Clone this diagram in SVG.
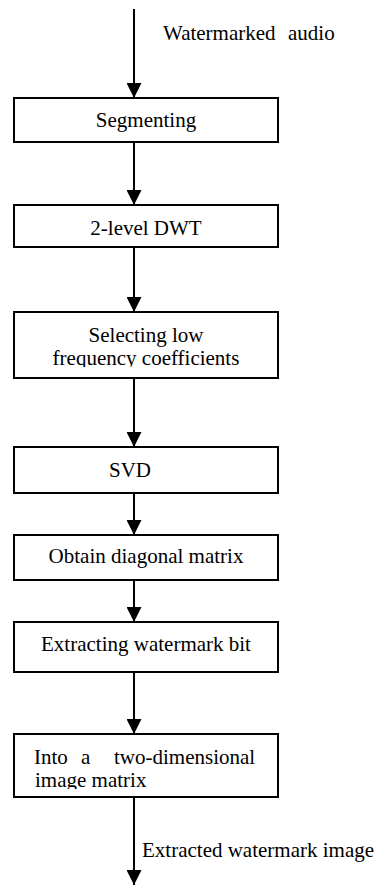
<svg xmlns="http://www.w3.org/2000/svg" width="380" height="885" viewBox="0 0 380 885">
<style>
.box{fill:#fff;stroke:#000;stroke-width:2}
.t{font-family:"Liberation Serif","Times New Roman",serif;font-size:21px;fill:#000}
.c{text-anchor:middle}
.conn line{stroke:#000;stroke-width:2;marker-end:url(#ah)}
</style>
<defs>
<marker id="ah" markerUnits="userSpaceOnUse" markerWidth="15" markerHeight="15" refX="15" refY="7.5" orient="auto" viewBox="0 0 15 15">
<path d="M0,0 L15,7.5 L0,15 z" fill="#000"/>
</marker>
<clipPath id="clip3"><rect x="14" y="312" width="264" height="55"/></clipPath>
<clipPath id="clip7"><rect x="14" y="734" width="264" height="55"/></clipPath>
</defs>
<rect width="380" height="885" fill="#fff"/>
<g id="connectors" class="conn">
<line x1="134" y1="9" x2="134" y2="98"/>
<line x1="134" y1="142" x2="134" y2="205"/>
<line x1="134" y1="247" x2="134" y2="312"/>
<line x1="134" y1="378" x2="134" y2="447"/>
<line x1="134" y1="493" x2="134" y2="535"/>
<line x1="134" y1="580" x2="134" y2="622"/>
<line x1="134" y1="672" x2="134" y2="734"/>
<line x1="134" y1="797" x2="134" y2="885"/>
</g>
<g id="label-in"><text class="t" y="40"><tspan x="163">Watermarked</tspan><tspan x="288">audio</tspan></text></g>
<g id="n1"><rect class="box" x="14" y="98" width="264" height="44"/><text class="t c" x="146" y="127">Segmenting</text></g>
<g id="n2"><rect class="box" x="14" y="205" width="264" height="42"/><text class="t c" x="146" y="235">2-level DWT</text></g>
<g id="n3"><rect class="box" x="14" y="312" width="264" height="66"/><text class="t c" x="146" y="342">Selecting low</text><text class="t c" x="146" y="365" clip-path="url(#clip3)">frequency coefficients</text></g>
<g id="n4"><rect class="box" x="14" y="447" width="264" height="46"/><text class="t" x="109" y="477">SVD</text></g>
<g id="n5"><rect class="box" x="14" y="535" width="264" height="45"/><text class="t c" x="146" y="563">Obtain diagonal matrix</text></g>
<g id="n6"><rect class="box" x="14" y="622" width="264" height="50"/><text class="t c" x="146" y="651">Extracting watermark bit</text></g>
<g id="n7"><rect class="box" x="14" y="734" width="264" height="63"/><text class="t" y="764"><tspan x="34">Into</tspan><tspan x="81">a</tspan><tspan x="114">two-dimensional</tspan></text><text class="t" x="35" y="787" clip-path="url(#clip7)">image matrix</text></g>
<g id="label-out"><text class="t" x="142" y="857">Extracted watermark image</text></g>
</svg>
